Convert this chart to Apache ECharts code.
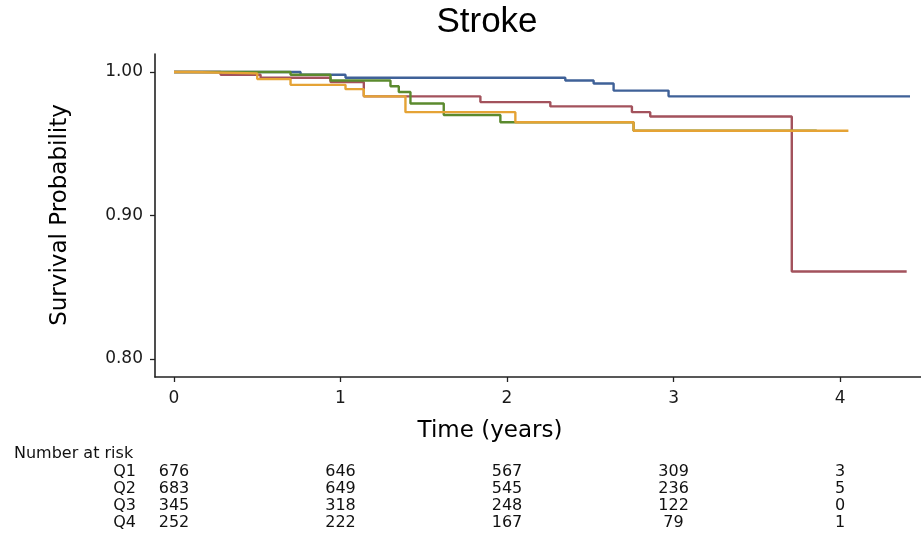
<!DOCTYPE html>
<html><head><meta charset="utf-8">
<script src="https://cdn.jsdelivr.net/npm/echarts@6/dist/echarts.min.js"></script>
<style>html,body{margin:0;padding:0;background:#fff}#c{width:921px;height:537px}</style>
</head><body><div id="c"></div>
<script>
const seriesNames = ['Q1', 'Q2', 'Q3', 'Q4'];
const q1Time = [0, 0.76, 1.03, 2.35, 2.52, 2.64, 2.97, 4.42];
const q1Surv = [1.000, 0.998, 0.996, 0.994, 0.992, 0.987, 0.983, 0.983];
const q2Time = [0, 0.28, 0.52, 0.94, 1.14, 1.84, 2.26, 2.75, 2.86, 3.71, 4.40];
const q2Surv = [1.000, 0.998, 0.996, 0.993, 0.983, 0.979, 0.976, 0.972, 0.969, 0.861, 0.861];
const q3Time = [0, 0.70, 0.94, 1.30, 1.35, 1.42, 1.62, 1.96, 2.76, 3.86];
const q3Surv = [1.000, 0.998, 0.994, 0.990, 0.986, 0.978, 0.970, 0.965, 0.959, 0.959];
const q4Time = [0, 0.10, 0.50, 0.70, 1.03, 1.14, 1.39, 2.05, 2.76, 4.05];
const q4Surv = [1.000, 0.999, 0.995, 0.991, 0.988, 0.983, 0.972, 0.965, 0.959, 0.959];
const xTicks = [0, 1, 2, 3, 4];
const yTicks = [0.8, 0.9, 1.0];
const riskTimes = [0, 1, 2, 3, 4];
const riskQ1 = [676, 646, 567, 309, 3];
const riskQ2 = [683, 649, 545, 236, 5];
const riskQ3 = [345, 318, 248, 122, 0];
const riskQ4 = [252, 222, 167, 79, 1];
const colors = ['#3f6198', '#a3525c', '#5b8a2e', '#e5a335'];

const times = [q1Time, q2Time, q3Time, q4Time];
const survs = [q1Surv, q2Surv, q3Surv, q4Surv];
const risks = [riskQ1, riskQ2, riskQ3, riskQ4];

const chart = echarts.init(document.getElementById('c'), null, {renderer: 'canvas'});
const axisColor = '#222';
const tickFont = {fontFamily: 'DejaVu Sans', fontSize: 17, color: '#1a1a1a'};

chart.setOption({
  animation: false,
  backgroundColor: '#fff',
  grid: {left: 155, right: 0, top: 54, bottom: 160, containLabel: false},
  xAxis: {
    type: 'value', min: -0.114, max: 4.486,
    splitLine: {show: false},
    axisLine: {show: true, onZero: false, lineStyle: {color: axisColor, width: 1.6}},
    axisTick: {show: true, customValues: xTicks, length: 5, lineStyle: {color: axisColor, width: 1.3}},
    axisLabel: Object.assign({customValues: xTicks, margin: 13}, tickFont)
  },
  yAxis: {
    type: 'value', min: 0.7875, max: 1.0125,
    splitLine: {show: false},
    axisLine: {show: true, onZero: false, lineStyle: {color: axisColor, width: 1.6}},
    axisTick: {show: true, customValues: yTicks, length: 5, lineStyle: {color: axisColor, width: 1.3}},
    axisLabel: Object.assign({customValues: yTicks, margin: 12, formatter: v => v.toFixed(2)}, tickFont)
  },
  series: seriesNames.map((n, i) => ({
    name: n, type: 'line', step: 'end', symbol: 'none',
    lineStyle: {color: colors[i], width: 2.4},
    data: times[i].map((t, j) => [t, survs[i][j]])
  }))
});

const g = [];
g.push({type: 'text', x: 487, y: 22, style: {text: 'Stroke', fontFamily: 'Liberation Sans', fontSize: 35, fill: '#000', textAlign: 'center', textVerticalAlign: 'middle'}});
g.push({type: 'text', x: 490, y: 431, style: {text: 'Time (years)', fontFamily: 'DejaVu Sans', fontSize: 23, fill: '#000', textAlign: 'center', textVerticalAlign: 'middle'}});
g.push({type: 'text', x: 60, y: 215, rotation: Math.PI / 2, style: {text: 'Survival Probability', fontFamily: 'DejaVu Sans', fontSize: 23, fill: '#000', textAlign: 'center', textVerticalAlign: 'middle'}});
const tblFont = {fontFamily: 'DejaVu Sans', fontSize: 16, fill: '#111', textVerticalAlign: 'middle'};
g.push({type: 'text', x: 14, y: 454, style: Object.assign({text: 'Number at risk', textAlign: 'left'}, tblFont)});
const rowY = [472, 489, 506, 523];
seriesNames.forEach((n, i) => {
  g.push({type: 'text', x: 136, y: rowY[i], style: Object.assign({text: n, textAlign: 'right'}, tblFont)});
  riskTimes.forEach((t, j) => {
    const px = chart.convertToPixel({xAxisIndex: 0}, t);
    g.push({type: 'text', x: px, y: rowY[i], style: Object.assign({text: String(risks[i][j]), textAlign: 'center'}, tblFont)});
  });
});
chart.setOption({graphic: g});
</script></body></html>
